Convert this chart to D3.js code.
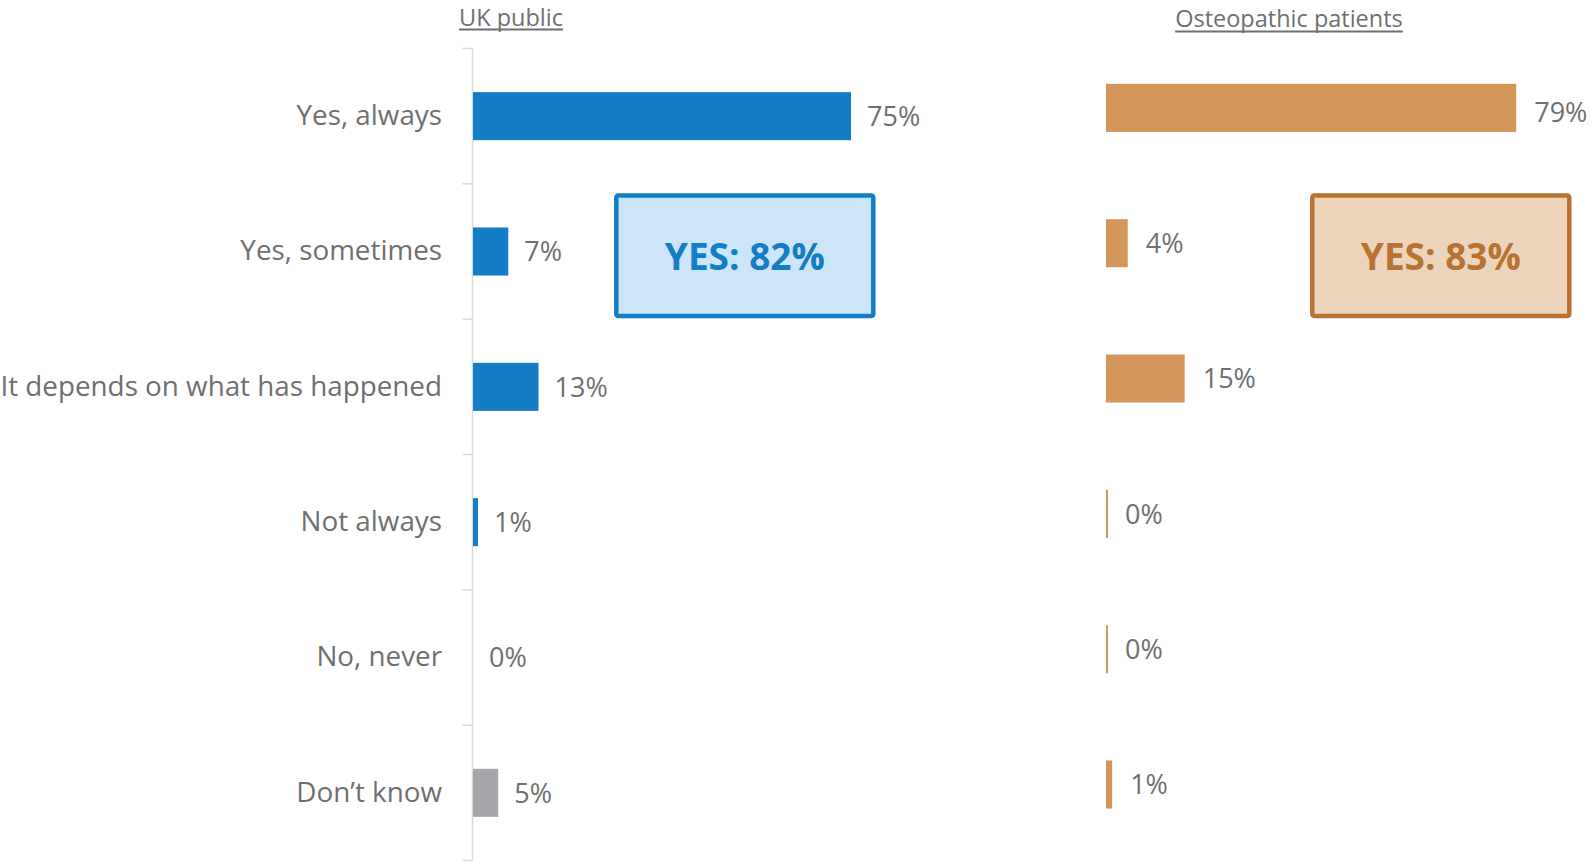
<!DOCTYPE html>
<html>
<head>
<meta charset="utf-8">
<script src="https://cdn.jsdelivr.net/npm/d3@7"></script>
<style>
  html, body { margin: 0; padding: 0; background: #ffffff; }
  svg { display: block; font-family: "Open Sans", "Noto Sans", sans-serif; }
</style>
</head>
<body>
<svg id="chart" width="1595" height="865"></svg>
<script>
// Survey answers, shared by both panels
const categories = [
  "Yes, always",
  "Yes, sometimes",
  "It depends on what has happened",
  "Not always",
  "No, never",
  "Don\u2019t know"
];

// Percentages of respondents per answer
const ukPublic = [75, 7, 13, 1, 0, 5];
const osteoPatients = [79, 4, 15, 0, 0, 1];

const panelTitles = ["UK public", "Osteopathic patients"];

const BLUE = "#137dc5";
const ORANGE = "#d4965b";
const GREY_BAR = "#a6a7ab";
const TEXT = "#6f6f6f";
const AXIS = "#d9d9d9";

const svg = d3.select("#chart");

// ---------- Left panel: UK public ----------
const yL = d3.scaleBand()
  .domain(categories)
  .range([48.5, 860.5])
  .paddingInner(0.645)
  .paddingOuter(0.3225);

const xL = d3.scaleLinear().domain([0, 100]).range([473, 977]);

// Category labels from a left axis
const yAxis = svg.append("g")
  .attr("transform", `translate(${xL(0) - 1},0)`)
  .call(d3.axisLeft(yL).tickSize(0).tickPadding(30));
yAxis.select(".domain").remove();
yAxis.selectAll("text")
  .attr("fill", TEXT)
  .style("font-size", "27.8px")
  .style("font-family", "'Open Sans', sans-serif");

// Axis line and tick marks at band boundaries
const axisX = xL(0) - 0.5;
const [r0, r1] = yL.range();
svg.append("line")
  .attr("x1", axisX).attr("x2", axisX)
  .attr("y1", r0).attr("y2", r1)
  .attr("stroke", AXIS).attr("stroke-width", 1.5);
const boundaries = d3.range(categories.length + 1).map(i => r0 + i * yL.step());
svg.append("g").selectAll("line")
  .data(boundaries)
  .join("line")
  .attr("x1", axisX - 10).attr("x2", axisX)
  .attr("y1", d => d).attr("y2", d => d)
  .attr("stroke", AXIS).attr("stroke-width", 1.5);

const leftData = categories.map((c, i) => ({ cat: c, value: ukPublic[i] }));

svg.append("g").selectAll("rect")
  .data(leftData)
  .join("rect")
  .attr("x", xL(0))
  .attr("y", d => yL(d.cat))
  .attr("width", d => xL(d.value) - xL(0))
  .attr("height", yL.bandwidth())
  .attr("fill", d => d.cat === "Don\u2019t know" ? GREY_BAR : BLUE);

svg.append("g").selectAll("text")
  .data(leftData)
  .join("text")
  .attr("x", d => xL(d.value) + 16)
  .attr("y", d => yL(d.cat) + yL.bandwidth() / 2)
  .attr("dy", "0.36em")
  .attr("fill", TEXT)
  .style("font-size", "27px")
  .text(d => d.value + "%");

// ---------- Right panel: Osteopathic patients ----------
const yR = d3.scaleBand()
  .domain(categories)
  .range([40.2, 852.2])
  .paddingInner(0.645)
  .paddingOuter(0.3225);

const xR = d3.scaleLinear().domain([0, 100]).range([1107, 1625]);

const rightData = categories.map((c, i) => ({ cat: c, value: osteoPatients[i] }));

svg.append("g").selectAll("rect")
  .data(rightData)
  .join("rect")
  .attr("x", xR(0))
  .attr("y", d => yR(d.cat))
  .attr("width", d => xR(d.value) - xR(0))
  .attr("height", yR.bandwidth())
  .attr("fill", ORANGE);

// Bar edge at zero, so empty answers still show a thin mark
svg.append("g").selectAll("line")
  .data(rightData)
  .join("line")
  .attr("x1", xR(0)).attr("x2", xR(0))
  .attr("y1", d => yR(d.cat))
  .attr("y2", d => yR(d.cat) + yR.bandwidth())
  .attr("stroke", ORANGE)
  .attr("stroke-width", 2);

svg.append("g").selectAll("text")
  .data(rightData)
  .join("text")
  .attr("x", d => xR(d.value) + 18)
  .attr("y", d => yR(d.cat) + yR.bandwidth() / 2 + (d.value > 50 ? 4 : 0))
  .attr("dy", "0.36em")
  .attr("fill", TEXT)
  .style("font-size", "27px")
  .text(d => d.value + "%");

// ---------- Panel titles (underlined) ----------
const titleSpecs = [
  { text: panelTitles[0], cx: 511, baseline: 25.5, gap: 4 },
  { text: panelTitles[1], cx: 1289, baseline: 27, gap: 4.5 }
];
titleSpecs.forEach(t => {
  const el = svg.append("text")
    .attr("x", t.cx)
    .attr("y", t.baseline)
    .attr("text-anchor", "middle")
    .attr("fill", TEXT)
    .style("font-size", "23.5px")
    .text(t.text);
  const w = el.node().getComputedTextLength();
  svg.append("line")
    .attr("x1", t.cx - w / 2).attr("x2", t.cx + w / 2)
    .attr("y1", t.baseline + t.gap).attr("y2", t.baseline + t.gap)
    .attr("stroke", TEXT).attr("stroke-width", 2);
});

// ---------- "YES" summary boxes ----------
const yesTotal = arr => arr[0] + arr[1];
const boxes = [
  { x: 616.3, y: 195.5, fill: "#cce5f8", stroke: BLUE, color: BLUE, total: yesTotal(ukPublic) },
  { x: 1312.3, y: 195.5, fill: "#edd5bd", stroke: "#b87333", color: "#b87333", total: yesTotal(osteoPatients) }
];
const boxW = 257, boxH = 120.5;
boxes.forEach(b => {
  svg.append("rect")
    .attr("x", b.x).attr("y", b.y)
    .attr("width", boxW).attr("height", boxH)
    .attr("rx", 2)
    .attr("fill", b.fill)
    .attr("stroke", b.stroke)
    .attr("stroke-width", 4.5);
  svg.append("text")
    .attr("x", b.x + boxW / 2)
    .attr("y", b.y + boxH / 2 + 1)
    .attr("dy", "0.36em")
    .attr("text-anchor", "middle")
    .attr("fill", b.color)
    .style("font-size", "37px")
    .style("font-weight", "700")
    .text(`YES: ${b.total}%`);
});
</script>
</body>
</html>
